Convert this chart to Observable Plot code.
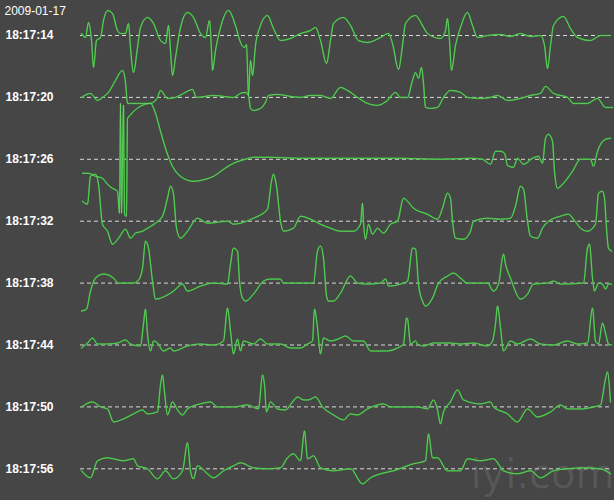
<!DOCTYPE html>
<html><head><meta charset="utf-8">
<script src="https://cdn.jsdelivr.net/npm/d3@7"></script>
<script src="https://cdn.jsdelivr.net/npm/@observablehq/plot@0.6"></script>
<style>body{margin:0;background:#464646;}</style>
</head><body><div id="chart"></div>
<script>
// Recording date and row start times
const dateLabel = "2009-01-17";
const rowLabels = ["18:17:14","18:17:20","18:17:26","18:17:32","18:17:38","18:17:44","18:17:50","18:17:56"];
// Each trace: [sample index (~88 samples/s), amplitude units]
const trace0 = [[1,2],[5,-2],[8,13],[11,-5],[13,-32],[16,-5],[20,-2],[23,15],[27,25],[32,22],[37,5],[40,2],[45,2],[48,12],[50,-12],[53,-37],[57,-12],[60,8],[67,18],[73,12],[80,-5],[85,-8],[88,10],[90,-15],[92,-40],[95,-22],[100,8],[107,23],[113,18],[120,2],[125,-2],[129,15],[131,-15],[132,-35],[135,-15],[140,8],[148,25],[155,10],[160,-7],[164,-12],[166,-9],[168,-60],[170,-25],[172,-40],[175,-10],[180,10],[187,20],[193,7],[200,-5],[210,-3],[220,2],[230,5],[235,8],[240,-5],[246,-28],[250,-5],[253,12],[263,18],[270,10],[278,-5],[287,-7],[300,-2],[308,2],[312,-8],[318,-34],[322,-10],[325,12],[335,20],[342,10],[347,2],[360,-3],[365,5],[367,17],[369,-5],[371,-35],[375,-10],[380,8],[387,23],[392,10],[397,-2],[407,0],[420,1],[430,-1],[440,2],[450,-1],[460,0],[464,-10],[467,-33],[470,-10],[473,10],[483,19],[490,7],[497,-2],[510,-5],[520,0],[530,0]];
const trace1 = [[1,0],[10,4],[17,-3],[22,0],[28,5],[35,17],[42,27],[45,15],[47,-6],[70,-6],[77,0],[80,7],[87,-1],[95,0],[103,4],[112,8],[116,0],[133,2],[153,0],[160,4],[165,5],[168,2],[170,-11],[173,-13],[180,-11],[185,-5],[188,2],[197,3],[210,1],[220,0],[230,2],[240,2],[250,-1],[260,10],[267,7],[277,0],[287,-6],[297,-8],[307,-3],[315,5],[320,0],[327,0],[332,17],[335,25],[338,19],[341,30],[343,14],[345,-10],[350,-11],[357,-10],[363,0],[370,7],[380,5],[387,0],[400,-1],[410,0],[417,2],[427,-3],[440,-1],[450,2],[460,4],[465,11],[473,4],[487,0],[493,-6],[507,-6],[517,-1],[525,-10],[532,-10]];
const trace2 = [[2,-14],[8,-14],[15,-17],[22,-19],[27,-25],[32,-29],[37,-32],[39,-54],[40,56],[41,-54],[43,54],[44,-55],[46,-57],[47,41],[70,56],[75,46],[80,28],[86,8],[92,-7],[100,-17],[113,-22],[125,-20],[133,-17],[143,-10],[153,-4],[165,0],[173,2],[190,2],[220,1],[270,1],[320,1],[360,0],[390,1],[402,0],[410,-5],[415,8],[420,8],[424,6],[427,-6],[433,-8],[437,1],[443,-5],[452,1],[458,3],[462,-4],[465,21],[468,25],[472,18],[474,-12],[477,-29],[480,-27],[492,-12],[500,0],[510,0],[513,-7],[517,8],[520,15],[525,20],[530,21]];
const trace3 = [[2,20],[7,17],[10,45],[15,47],[18,37],[22,-3],[27,-10],[32,-23],[38,-17],[45,-8],[50,-17],[55,-12],[62,-10],[67,-7],[75,-2],[82,5],[87,23],[90,35],[93,27],[96,-7],[100,-17],[107,-10],[117,3],[127,-2],[147,0],[153,-3],[173,3],[187,12],[191,40],[193,47],[196,35],[200,0],[203,-10],[213,-7],[220,5],[230,2],[240,-3],[250,-7],[260,-10],[273,-10],[280,-3],[282,18],[283,0],[285,-18],[288,-3],[292,-13],[297,-7],[303,-12],[310,-3],[317,0],[323,23],[327,20],[333,13],[347,7],[357,2],[362,13],[367,28],[370,23],[372,0],[375,-17],[383,-18],[390,-10],[393,0],[407,3],[420,2],[430,3],[435,15],[440,35],[443,32],[447,0],[450,-15],[457,-17],[462,-7],[468,0],[480,5],[488,7],[493,2],[500,-7],[507,-10],[515,-3],[518,28],[522,30],[524,23],[526,-7],[528,-27],[531,-30]];
const trace4 = [[1,-28],[6,-26],[10,-8],[15,5],[23,9],[33,5],[38,0],[53,0],[58,3],[62,15],[65,42],[68,35],[72,2],[75,-16],[80,-15],[93,-8],[102,-1],[107,-8],[120,-3],[133,0],[147,-1],[150,19],[153,35],[157,32],[159,2],[162,-15],[165,-18],[173,-11],[183,2],[190,4],[200,4],[203,0],[233,0],[237,32],[240,37],[243,25],[246,-13],[248,-18],[253,-18],[260,-10],[270,7],[277,0],[287,-1],[300,0],[305,4],[308,-3],[320,-1],[327,2],[332,35],[335,34],[338,-1],[342,-18],[345,-23],[352,-15],[358,0],[367,7],[373,10],[380,5],[387,0],[407,0],[413,-8],[418,-1],[423,29],[425,19],[430,5],[440,-16],[447,-11],[453,-1],[467,0],[473,2],[480,-1],[503,0],[507,35],[509,39],[512,5],[514,-8],[518,0],[522,-1],[525,-6],[528,-1],[531,-1]];
const trace5 = [[1,-3],[7,2],[12,7],[17,1],[27,1],[37,2],[45,5],[50,1],[60,-1],[63,21],[65,36],[67,11],[70,-6],[73,4],[77,2],[83,-6],[90,-3],[93,-6],[107,-1],[120,1],[133,0],[143,4],[147,37],[150,14],[153,-9],[157,6],[160,-6],[163,4],[173,1],[180,6],[187,1],[200,1],[210,-3],[220,-3],[227,1],[232,4],[234,36],[237,17],[240,-9],[243,7],[250,4],[260,7],[265,9],[273,4],[283,4],[290,-6],[307,-6],[317,-3],[323,1],[326,27],[327,26],[330,1],[335,4],[337,1],[343,-1],[353,2],[370,2],[380,1],[393,2],[407,-1],[412,4],[415,21],[417,39],[420,17],[423,-6],[430,4],[437,1],[450,6],[460,1],[473,0],[487,4],[497,1],[507,2],[512,37],[515,4],[518,1],[522,22],[525,12],[528,1],[531,0]];
const trace6 = [[1,0],[12,5],[20,0],[27,-2],[33,-15],[43,-12],[53,-7],[62,-3],[67,-7],[77,-5],[80,22],[82,32],[84,15],[87,-8],[92,5],[97,-3],[102,-8],[107,-2],[120,3],[130,5],[137,0],[153,0],[167,2],[178,-2],[182,32],[184,22],[186,-5],[190,5],[197,-2],[205,-3],[212,5],[217,10],[223,7],[228,7],[235,10],[242,0],[253,-8],[263,-13],[270,-7],[277,-8],[287,-2],[303,3],[310,0],[337,0],[347,-2],[353,7],[357,-3],[360,-17],[363,-5],[370,5],[377,17],[383,7],[400,3],[410,5],[413,0],[427,-7],[437,-15],[447,-2],[457,-10],[470,-5],[480,2],[487,-2],[500,-2],[513,0],[520,2],[525,28],[527,35],[530,5]];
const trace7 = [[1,-2],[10,-9],[17,8],[27,11],[33,10],[43,8],[53,10],[57,3],[67,0],[77,-10],[85,-2],[93,-10],[102,-2],[107,26],[110,-2],[113,-10],[117,3],[127,-5],[133,-9],[143,-2],[153,3],[160,6],[173,1],[187,0],[200,1],[207,11],[213,15],[220,8],[224,38],[227,10],[233,13],[240,1],[253,-2],[270,0],[282,-15],[290,-9],[300,-5],[313,-2],[333,5],[345,8],[348,35],[352,11],[357,11],[367,-2],[380,-2],[387,10],[400,8],[413,10],[423,-2],[437,-5],[450,-2],[460,-9],[473,-2],[487,0],[503,1],[520,0],[530,-5]];
const traces = [trace0, trace1, trace2, trace3, trace4, trace5, trace6, trace7];
const watermark = "iyi.com";

const rowStep = 61.9;
const data = traces.flatMap((tr, i) => tr.map(([t, v]) => ({row: i, t, y: v - i * rowStep})));
const rows = rowLabels.map((label, i) => ({label, y: -i * rowStep}));

const chart = Plot.plot({
  width: 614, height: 500, margin: 0,
  x: {domain: [-80, 534], axis: null},
  y: {domain: [-465, 35], axis: null},
  style: {background: "#464646", color: "#fff"},
  marks: [
    Plot.text([watermark], {x: 390, y: -440, text: d => d, textAnchor: "start", fontSize: 40, fill: "#575757", stroke: "#3c3c3c", strokeWidth: 0.6, fontFamily: "DejaVu Sans"}),
    Plot.ruleY(rows, {y: "y", x1: 0, x2: 530, stroke: "#d8d8d8", strokeDasharray: "4,3", strokeWidth: 1}),
    Plot.line(data, {x: "t", y: "y", z: "row", stroke: "#2ea82e", strokeWidth: 1.5, curve: "monotone-x"}),
    Plot.line(data, {x: "t", y: "y", z: "row", stroke: "#7fe07f", strokeWidth: 0.6, curve: "monotone-x"}),
    Plot.text(rows, {x: -75, y: "y", text: "label", textAnchor: "start", fill: "#ffffff", fontSize: 12, fontWeight: "bold", fontFamily: "Liberation Sans"}),
    Plot.text([dateLabel], {x: -76, y: 24, text: d => d, textAnchor: "start", fill: "#ffffff", fontSize: 12, fontFamily: "Liberation Sans"})
  ]
});
document.getElementById("chart").appendChild(chart);
</script>
</body></html>
